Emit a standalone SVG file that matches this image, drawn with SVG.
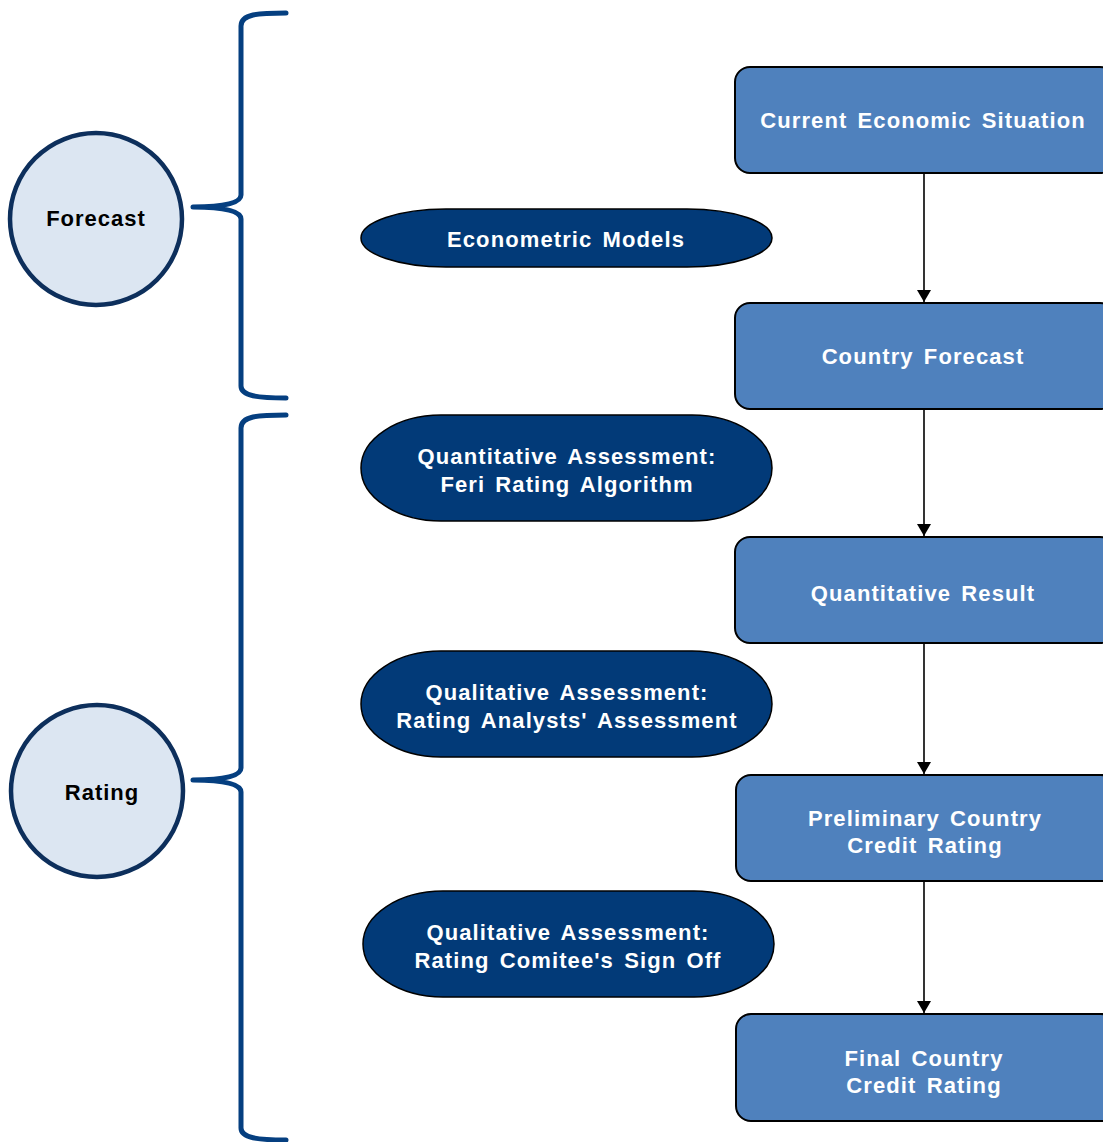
<svg xmlns="http://www.w3.org/2000/svg" width="1103" height="1142" viewBox="0 0 1103 1142">
  <defs>
    <marker id="arrow" viewBox="0 0 12 14" refX="12" refY="7" markerWidth="12" markerHeight="14" markerUnits="userSpaceOnUse" orient="auto">
      <path d="M0,0 L12,7 L0,14 Z" fill="#000"/>
    </marker>
    <style>
      .stage { fill: #dce6f2; stroke: #0d2f5c; stroke-width: 4.5; }
      .stage-label { font-family: "Liberation Sans", Arial, sans-serif; font-weight: bold; font-size: 22px; letter-spacing: 1px; fill: #000; text-anchor: middle; }
      .brace { fill: none; stroke: #053f80; stroke-width: 5; stroke-linecap: round; stroke-linejoin: round; }
      .step { fill: #4f81bd; stroke: #000; stroke-width: 2; }
      .method { fill: #023a78; stroke: #000; stroke-width: 1.5; }
      .label { font-family: "Liberation Sans", Arial, sans-serif; font-weight: bold; font-size: 22px; letter-spacing: 1.1px; word-spacing: 3px; fill: #fff; text-anchor: middle; }
      .flow { stroke: #000; stroke-width: 1.6; fill: none; }
    </style>
  </defs>

  <!-- stage circles -->
  <g id="stage-forecast">
    <circle class="stage" cx="96" cy="219" r="86"/>
    <text class="stage-label" x="96" y="226">Forecast</text>
  </g>
  <g id="stage-rating">
    <circle class="stage" cx="97" cy="791" r="86"/>
    <text class="stage-label" x="102" y="800">Rating</text>
  </g>

  <!-- braces grouping the stages -->
  <g id="brace-forecast">
    <path class="brace" d="M286,13 C258,13 241,14 241,26 L241,195 C241,203 225,207 193,207 C225,207 241,211 241,219 L241,386 C241,396 258,398 286,398"/>
  </g>
  <g id="brace-rating">
    <path class="brace" d="M286,415 C258,415 241,416 241,428 L241,768 C241,776 225,780 193,780 C225,780 241,784 241,792 L241,1128 C241,1138 258,1140 286,1140"/>
  </g>

  <!-- methods -->
  <g id="method-econometric">
    <rect class="method" x="361" y="209" width="411" height="58" rx="85" ry="29"/>
    <text class="label" x="566" y="247">Econometric Models</text>
  </g>
  <g id="method-quantitative">
    <rect class="method" x="361" y="415" width="411" height="106" rx="80" ry="53"/>
    <text class="label" x="567" y="464">Quantitative Assessment:</text>
    <text class="label" x="567" y="492">Feri Rating Algorithm</text>
  </g>
  <g id="method-analysts">
    <rect class="method" x="361" y="651" width="411" height="106" rx="80" ry="53"/>
    <text class="label" x="567" y="700">Qualitative Assessment:</text>
    <text class="label" x="567" y="728">Rating Analysts' Assessment</text>
  </g>
  <g id="method-committee">
    <rect class="method" x="363" y="891" width="411" height="106" rx="80" ry="53"/>
    <text class="label" x="568" y="940">Qualitative Assessment:</text>
    <text class="label" x="568" y="968">Rating Comitee's Sign Off</text>
  </g>

  <!-- process steps -->
  <g id="step-current">
    <rect class="step" x="735" y="67" width="380" height="106" rx="15"/>
    <text class="label" x="923" y="128">Current Economic Situation</text>
  </g>
  <g id="step-forecast">
    <rect class="step" x="735" y="303" width="380" height="106" rx="15"/>
    <text class="label" x="923" y="364">Country Forecast</text>
  </g>
  <g id="step-quant-result">
    <rect class="step" x="735" y="537" width="380" height="106" rx="15"/>
    <text class="label" x="923" y="601">Quantitative Result</text>
  </g>
  <g id="step-preliminary">
    <rect class="step" x="736" y="775" width="380" height="106" rx="15"/>
    <text class="label" x="925" y="826">Preliminary Country</text>
    <text class="label" x="925" y="853">Credit Rating</text>
  </g>
  <g id="step-final">
    <rect class="step" x="736" y="1014" width="380" height="107" rx="15"/>
    <text class="label" x="924" y="1066">Final Country</text>
    <text class="label" x="924" y="1093">Credit Rating</text>
  </g>

  <!-- connectors -->
  <g id="connectors">
    <line class="flow" x1="924" y1="174" x2="924" y2="302" marker-end="url(#arrow)"/>
    <line class="flow" x1="924" y1="410" x2="924" y2="536" marker-end="url(#arrow)"/>
    <line class="flow" x1="924" y1="644" x2="924" y2="774" marker-end="url(#arrow)"/>
    <line class="flow" x1="924" y1="882" x2="924" y2="1013" marker-end="url(#arrow)"/>
  </g>
</svg>
